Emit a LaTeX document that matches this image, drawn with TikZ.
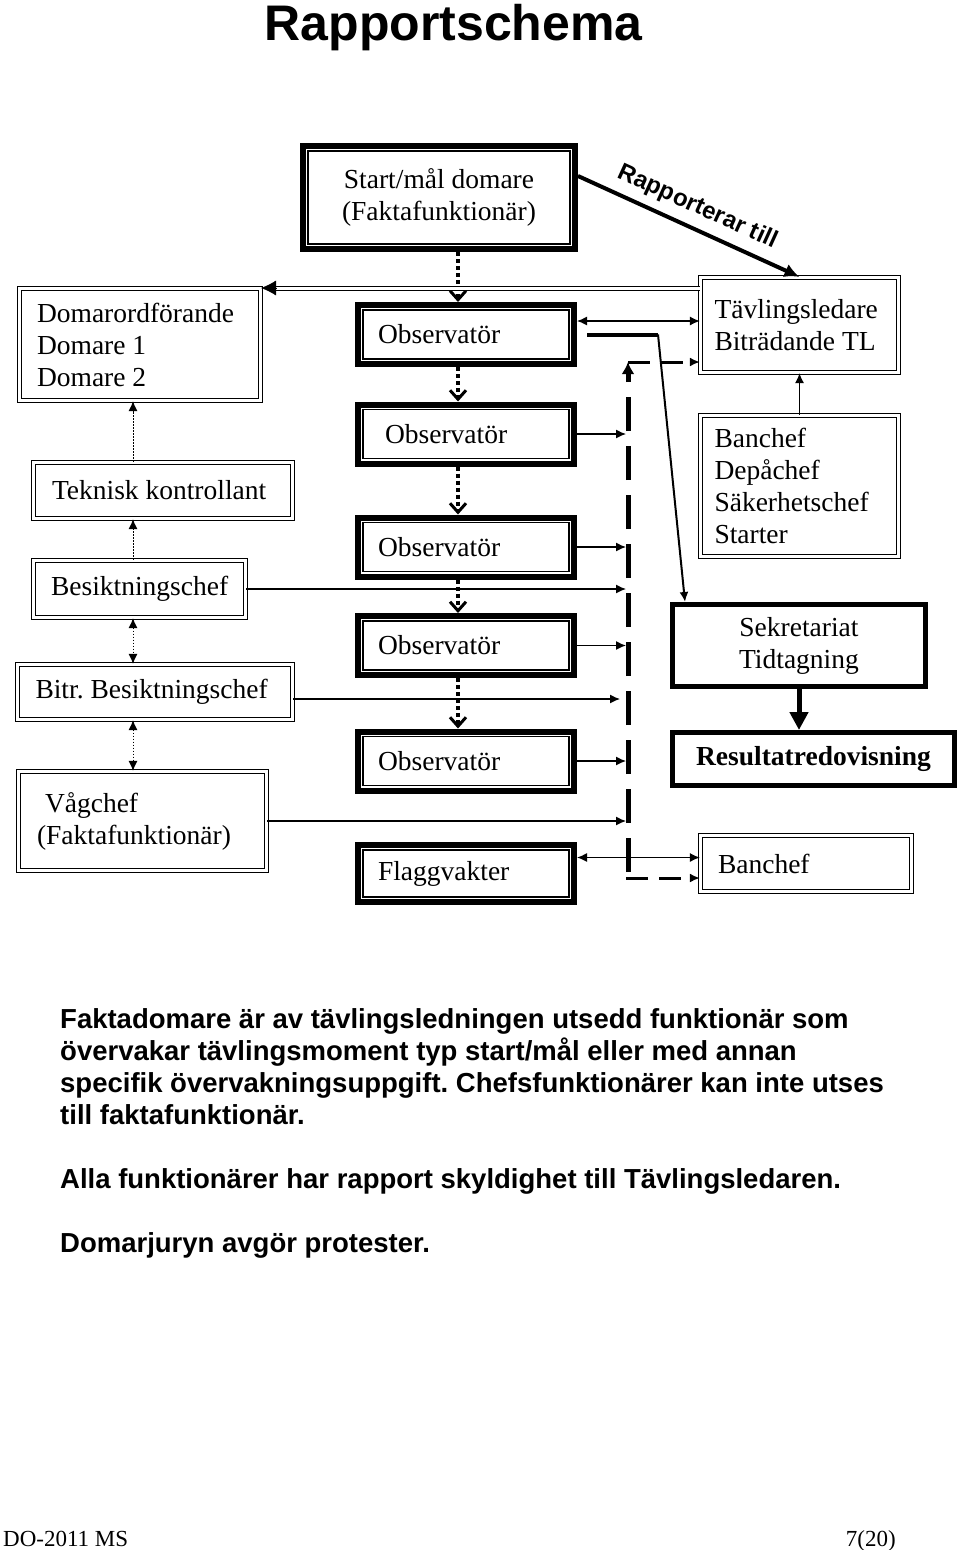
\documentclass[tikz,border=0pt]{standalone}
\usepackage{fontspec}
\setmainfont{Liberation Serif}
\setsansfont{Liberation Sans}
\usetikzlibrary{arrows.meta, positioning}
\newcommand{\boxfont}{\fontsize{27.5}{32}\selectfont\frenchspacing}
\tikzstyle{obsbox} = [draw, line width=6pt, inner sep=0pt, minimum width=216pt, minimum height=59pt, align=flush left,
  path picture={\draw[line width=1.2pt] ([xshift=5pt,yshift=5pt]path picture bounding box.south west) rectangle ([xshift=-5pt,yshift=-5pt]path picture bounding box.north east);}]
\tikzstyle{dblbox} = [draw, double, double distance=2.6pt, line width=1.2pt, inner sep=0pt, align=flush left]
\tikzstyle{fatbox} = [draw, line width=5pt, inner sep=0pt, align=center]
\tikzstyle{thinarr} = [line width=1.3pt, ->]
\tikzstyle{dotarrow} = [line width=4pt, dash pattern=on 4pt off 3pt, -{Straight Barb[length=9pt,width=16pt,line width=3pt]}]
\tikzstyle{dotthin} = [line width=1pt, dash pattern=on 1.5pt off 1.5pt]
\tikzstyle{busline} = [line width=5pt, dash pattern=on 34pt off 15pt]
\tikzstyle{hdash} = [line width=3pt, dash pattern=on 22pt off 11pt, ->]
\tikzstyle{dline} = [double, double distance=3pt, line width=1pt]

\begin{document}
\begin{tikzpicture}[x=1pt, y=-1pt, font=\boxfont, >={Latex[length=10pt,width=9pt]}]
\useasboundingbox (0,0) rectangle (960,1550);

\node[anchor=base, inner sep=0pt, font=\sffamily\bfseries\fontsize{50}{50}\selectfont] (title) at (453.5,40) {Rapportschema};

% middle column
\node[obsbox, minimum width=272pt, minimum height=103pt, align=center] (sm) at (439,197.5) {Start/mål domare\\(Faktafunktionär)};
\foreach \n/\y/\w in {o1/334.5/176, o2/434/162, o3/547/176, o4/645.5/176, o5/761/176}
  \node[obsbox, text width=\w pt] (\n) at (466,\y) {Observatör};
\node[obsbox, minimum height=57pt, text width=176pt] (fv) at (466,873.5) {Flaggvakter};

% left column
\node[dblbox, minimum width=241pt, minimum height=112pt, text width=206pt] (do) at (140,344.5) {Domarordförande\\Domare 1\\Domare 2};
\node[dblbox, minimum width=259pt, minimum height=56pt, text width=222pt] (tek) at (163,490.5) {Teknisk kontrollant};
\node[dblbox, minimum width=212pt, minimum height=57pt, text width=177pt] (besikt) at (139.5,589) {Besiktningschef};
\node[dblbox, minimum width=275pt, minimum height=55pt, text width=239pt] (bitr) at (155,692) {Bitr. Besiktningschef};
\node[dblbox, minimum width=248pt, minimum height=99pt, text width=211pt] (vag) at (142.5,821) {\hspace*{8pt}Vågchef\\(Faktafunktionär)};

% right column
\node[dblbox, minimum width=198pt, minimum height=95pt, text width=170pt] (tl) at (799.5,325) {Tävlingsledare\\Biträdande TL};
\node[dblbox, minimum width=198pt, minimum height=141pt, text width=170pt] (bg) at (799.5,486) {Banchef\\Depåchef\\Säkerhetschef\\Starter};
\node[fatbox, minimum width=253pt, minimum height=82pt] (sek) at (799,645.5) {Sekretariat\\Tidtagning};
\node[fatbox, minimum width=282pt, minimum height=53pt, font=\boxfont\bfseries] (res) at (813.5,759) {Resultatredovisning};
\node[dblbox, minimum width=211pt, minimum height=56pt, text width=176pt] (bc) at (806,863.5) {Banchef};

\coordinate (dotx) at (458,0);
\coordinate (lcol) at (133,0);
\coordinate (bus) at (626,0);
\coordinate (dl) at (0,288);
\coordinate (bustop) at (628,362);
\coordinate (busbot) at (628,872);
\coordinate (bb) at (626,878);
\coordinate (kn) at (658,334.5);

% dotted chain of observers
\foreach \a/\b in {sm/o1,o1/o2,o2/o3,o3/o4,o4/o5}
  \draw[dotarrow] (\a.south -| dotx) -- (\b.north -| dotx);

% left chain
\draw[dotthin, ->] (tek.north -| lcol) -- (do.south -| lcol);
\draw[dotthin, ->] (besikt.north -| lcol) -- (tek.south -| lcol);
\draw[dotthin, <->] (besikt.south -| lcol) -- (bitr.north -| lcol);
\draw[dotthin, <->] (bitr.south -| lcol) -- (vag.north -| lcol);

% Tävlingsledare to domare
\coordinate (dlend) at (do.east |- dl);
\draw[dline, shorten >=8pt] (tl.west |- dl) -- (dlend);
\draw[-{Latex[length=15pt,width=15pt]}] ([xshift=16pt]dlend) -- (dlend);

\draw[line width=4pt, -{Latex[length=15pt,width=14pt]}] ([yshift=-33pt]sm.north east) -- (tl.north)
  node[midway, sloped, above=8pt, inner sep=0pt, font=\sffamily\bfseries\fontsize{24}{24}\selectfont] (rt) {Rapporterar till};

\coordinate (o1r) at ([yshift=13.5pt]o1.east);
\draw[thinarr, <->] (o1r) -- (o1r -| tl.west);
\draw[line width=4pt] ([xshift=10pt]o1.east) -- (kn);
\draw[line width=2pt, ->] (kn) -- ([xshift=15pt]sek.north west);

% dashed collector
\draw[busline, -{Latex[length=12pt,width=13pt]}] (busbot) -- (bustop);
\draw[hdash] (bustop) -- (bustop -| tl.west);
\draw[hdash] (bb) -- (bb -| bc.west);
\foreach \n in {o2,o3,besikt,o4,o5,vag}
  \draw[thinarr] (\n.east) -- (\n.east -| bus);
\coordinate (bitrr) at ([yshift=-7pt]bitr.east);
\draw[thinarr, shorten >=6pt] (bitrr) -- (bitrr -| bus);

\coordinate (fvr) at ([yshift=16pt]fv.east);
\draw[thinarr, <->] (fvr) -- (fvr -| bc.west);
\draw[thinarr] (bg.north) -- (tl.south);
\draw[line width=5pt, -{Triangle[length=18pt,width=18pt]}] (sek.south) -- (sek.south |- res.north);

\node[anchor=north west, inner sep=0pt, align=flush left, font=\sffamily\bfseries\fontsize{27.5}{32}\selectfont\frenchspacing] (txt) at (60,1008)
  {Faktadomare är av tävlingsledningen utsedd funktionär som\\
   övervakar tävlingsmoment typ start/mål eller med annan\\
   specifik övervakningsuppgift. Chefsfunktionärer kan inte utses\\
   till faktafunktionär.\\[32pt]
   Alla funktionärer har rapport skyldighet till Tävlingsledaren.\\[32pt]
   Domarjuryn avgör protester.};

\node[anchor=base west, inner sep=0pt, font=\fontsize{23}{23}\selectfont] (foot) at (3,1546) {DO-2011 MS};
\node[anchor=base east, inner sep=0pt, font=\fontsize{23}{23}\selectfont] (page) at (896,1546) {7(20)};
\end{tikzpicture}
\end{document}
